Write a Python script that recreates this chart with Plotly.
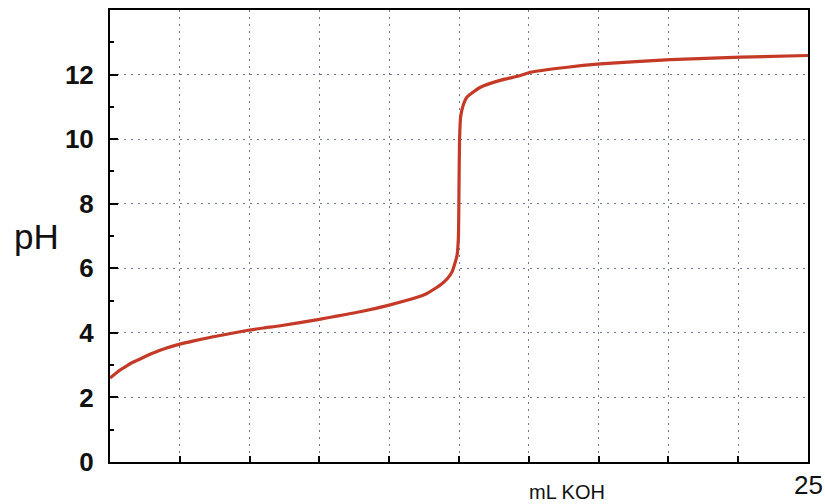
import plotly.graph_objects as go

# Data
ml_koh = [0, 0.36, 0.6, 0.82, 1.0, 1.5, 2.0, 2.5, 3.0, 3.7, 4.95, 5.5, 6.1, 7.5, 8.0,
          9.0, 10.0, 11.0, 11.35, 11.6, 11.9, 12.1, 12.25, 12.43, 12.48, 12.5, 12.52,
          12.56, 12.65, 12.78, 13.25, 13.97, 14.7, 15.05, 16.3, 17.56, 20.07, 22.6, 25]
ph = [2.6, 2.85, 2.98, 3.09, 3.16, 3.36, 3.52, 3.65, 3.75, 3.88, 4.08, 4.15, 4.22, 4.42, 4.5,
      4.66, 4.86, 5.1, 5.22, 5.35, 5.53, 5.7, 5.89, 6.4, 7.0, 8.5, 10.0,
      10.7, 11.05, 11.3, 11.6, 11.82, 11.97, 12.07, 12.22, 12.33, 12.46, 12.54, 12.59]

x_ticks = [0, 2.5, 5, 7.5, 10, 12.5, 15, 17.5, 20, 22.5, 25]
x_tick_text = ["", "", "", "", "", "", "", "", "", "", ""]
y_ticks = [0, 2, 4, 6, 8, 10, 12]
y_tick_text = ["<b>0</b>", "<b>2</b>", "<b>4</b>", "<b>6</b>", "<b>8</b>", "<b>10</b>", "<b>12</b>"]

fig = go.Figure()
fig.add_trace(go.Scatter(
    x=ml_koh, y=ph, mode="lines",
    line=dict(color="#c43a26", width=3.2, shape="spline", smoothing=0.5),
    showlegend=False, hoverinfo="skip",
))

grid_color = "#6f7596"
fig.update_layout(
    width=825, height=504,
    margin=dict(l=110, r=17, t=10, b=42, autoexpand=False),
    paper_bgcolor="white", plot_bgcolor="white",
    font=dict(family="Liberation Sans, Arial, sans-serif", color="#111"),
    xaxis=dict(
        range=[0, 25], tickmode="array", tickvals=x_ticks, ticktext=x_tick_text,
        ticks="inside", ticklen=6, tickwidth=2, tickcolor="black",
        showline=True, linecolor="black", linewidth=2, mirror=True,
        showgrid=True, gridcolor=grid_color, griddash="2px,5px", gridwidth=1.3,
        zeroline=False, automargin=False,
    ),
    yaxis=dict(
        range=[0, 14], tickmode="array", tickvals=y_ticks, ticktext=y_tick_text,
        ticks="inside", ticklen=8, tickwidth=2, tickcolor="black",
        minor=dict(tickvals=[1, 3, 5, 7, 9, 11, 13], ticks="inside", ticklen=4,
                   tickwidth=1.5, tickcolor="black", showgrid=False),
        showline=True, linecolor="black", linewidth=2, mirror=True,
        showgrid=True, gridcolor=grid_color, griddash="2px,5px", gridwidth=1.3,
        zeroline=False, tickfont=dict(size=26, color="#111"),
        ticklabelstandoff=9, automargin=False,
    ),
    annotations=[
        dict(text="pH", xref="paper", yref="paper", x=-0.105, y=0.5,
             xanchor="center", yanchor="middle", showarrow=False,
             font=dict(size=35, color="#111")),
        dict(text="mL KOH", xref="paper", yref="paper", x=0.655, y=0,
             yshift=-30, xanchor="center", yanchor="middle", showarrow=False,
             font=dict(size=20, color="#111")),
        dict(text="25", xref="x", yref="paper", x=25, y=0,
             yshift=-23, xanchor="center", yanchor="middle", showarrow=False,
             font=dict(size=26, color="#111")),
    ],
)

fig.write_html("out.html", config={"displayModeBar": False},
               post_script="document.body.style.margin='0';document.body.style.overflow='hidden';")
